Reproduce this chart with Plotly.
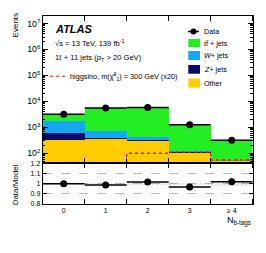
import numpy as np
import plotly.graph_objects as go

# ---------------- data ----------------
categories = ["0", "1", "2", "3", "≥ 4"]
data = [3200, 5580, 5750, 1244, 320]
ttbar = [1400, 4960, 5255, 1168, 260]
wjets = [1200, 305, 90, 8, 3]
zjets = [280, 50, 25, 4, 1]
other = [320, 340, 290, 105, 50]
signal = [5, 20, 100, 110, 55]
ratio = [1.000, 0.987, 1.016, 0.968, 1.019]
ratio_err = [0.004, 0.004, 0.005, 0.008, 0.03]
band_err = [0.01, 0.01, 0.01, 0.01, 0.025]
ratio_ticks = [0.8, 0.9, 1.0, 1.1, 1.2]
ratio_tick_labels = ["0.8", "0.9", "1", "1.1", "1.2"]

# ---------------- styling ----------------
W, H = 266, 253
FONT = "Liberation Sans, Arial, sans-serif"
C_TT = "#22ee22"
C_W = "#14a8f5"
C_Z = "#0a0a66"
C_OTH = "#ffcc00"


def px(x):
    return x / W


def py(y):
    return 1 - y / H


xdom = [px(42.7), px(252.7)]
main_dom = [py(163.8), py(12.5)]
ratio_dom = [py(205.7), py(163.8)]

x = np.arange(len(categories))
edges = np.arange(len(categories) + 1) - 0.5

oth = np.array(other, float)
z = np.array(zjets, float)
w = np.array(wjets, float)
tt = np.array(ttbar, float)
cum_oth = oth
cum_z = cum_oth + z
cum_w = cum_z + w
cum_tt = cum_w + tt

fig = go.Figure()

# stacked backgrounds (overlay of cumulative sums, drawn largest first)
for cum, col, name in [(cum_tt, C_TT, "tt"), (cum_w, C_W, "W"),
                       (cum_z, C_Z, "Z"), (cum_oth, C_OTH, "Other")]:
    fig.add_trace(go.Bar(x=x, y=cum, width=1.0, marker=dict(color=col, line=dict(width=0)),
                         showlegend=False, name=name, xaxis="x", yaxis="y"))

# signal step line
sig_steps = list(signal) + [signal[-1]]
fig.add_trace(go.Scatter(x=edges, y=sig_steps, mode="lines", line_shape="hv",
                         line=dict(color="#ee1111", dash="dot", width=1.3),
                         showlegend=False, xaxis="x", yaxis="y"))

# data
fig.add_trace(go.Scatter(x=x, y=data, mode="markers",
                         marker=dict(color="black", size=7),
                         error_x=dict(type="constant", value=0.5, width=0, thickness=1.5, color="black"),
                         error_y=dict(type="data", array=np.sqrt(np.array(data, float)), width=0,
                                      thickness=1.2, color="black"),
                         showlegend=False, xaxis="x", yaxis="y"))

# ratio uncertainty band (hatched)
be = np.array(band_err)
fig.add_trace(go.Bar(x=x, y=2 * be, base=1 - be, width=1.0,
                     marker=dict(color="rgba(255,255,255,0)", line=dict(width=0),
                                 pattern=dict(shape="/", fgcolor="#888888", bgcolor="rgba(255,255,255,0)",
                                              size=3, solidity=0.3)),
                     showlegend=False, xaxis="x2", yaxis="y2"))

# ratio points
fig.add_trace(go.Scatter(x=x, y=ratio, mode="markers",
                         marker=dict(color="black", size=7),
                         error_x=dict(type="constant", value=0.5, width=0, thickness=1.5, color="black"),
                         error_y=dict(type="data", array=ratio_err, width=0, thickness=1.2, color="black"),
                         showlegend=False, xaxis="x2", yaxis="y2"))

axis_common = dict(showline=True, linecolor="black", linewidth=1, mirror="allticks",
                   tickfont=dict(family=FONT, size=7, color="black"), zeroline=False)

fig.update_layout(
    width=W, height=H,
    margin=dict(l=0, r=0, t=0, b=0),
    paper_bgcolor="white", plot_bgcolor="white",
    barmode="overlay", bargap=0,
    showlegend=False,
    hovermode=False,
    font=dict(family=FONT, color="black"),
    xaxis=dict(domain=xdom, anchor="y", range=[-0.5, 4.5], showticklabels=False,
               ticks="", showgrid=False,
               minor=dict(ticks="inside", tick0=-0.5, dtick=1, ticklen=5, tickcolor="black", showgrid=False),
               **axis_common),
    yaxis=dict(domain=main_dom, anchor="x", type="log", range=[1.614, 7.281], dtick=1,
               exponentformat="power", ticks="inside", ticklen=5, tickcolor="black", showgrid=False,
               minor=dict(ticks="inside", ticklen=2.5, tickcolor="black", dtick="D1", showgrid=False),
               **axis_common),
    xaxis2=dict(domain=xdom, anchor="y2", range=[-0.5, 4.5], tickvals=list(x), ticktext=categories,
                ticks="", showgrid=False, matches="x",
                minor=dict(ticks="inside", tick0=-0.5, dtick=1, ticklen=5, tickcolor="black", showgrid=False),
                **axis_common),
    yaxis2=dict(domain=ratio_dom, anchor="x2", range=[0.8, 1.2], tickvals=ratio_ticks,
                ticktext=ratio_tick_labels, ticks="inside", ticklen=4, tickcolor="black",
                showgrid=True, gridcolor="#aaaaaa", griddash="dash", gridwidth=0.8,
                **axis_common),
)

ann = []


def text(xp, yp, s, size=7, xanchor="left", yanchor="middle", angle=0):
    ann.append(dict(x=px(xp), y=py(yp), xref="paper", yref="paper", text=s, showarrow=False,
                    xanchor=xanchor, yanchor=yanchor, textangle=angle,
                    font=dict(family=FONT, size=size, color="black")))


text(53, 26, "<b><i>ATLAS</i></b>", size=11)
text(53, 40.5, "√s = 13 TeV, 139 fb<sup>-1</sup>", size=7.6)
text(53, 56, "1ℓ + 11 jets (<i>p</i><sub>T</sub> > 20 GeV)", size=7.6)
text(68, 74.3, "higgsino, m(χ̃<sup>0</sup><sub>1</sub>) = 300 GeV (x20)", size=7.3)

text(202, 28.3, "Data", size=7.2)
text(202, 40.2, "<i>t</i><i>t̄</i> + jets", size=7.2)
text(202, 53, "<i>W</i>+ jets", size=7.2)
text(202, 67.2, "<i>Z</i>+ jets", size=7.2)
text(202, 81.3, "Other", size=7.2)

text(15, 22, "Events", size=8, xanchor="center", angle=-90)
text(15.5, 186, "Data/Model", size=8, xanchor="center", angle=-90)
text(252.7, 215, "N<sub>b-tags</sub>", size=9, xanchor="right", yanchor="top")

fig.update_layout(annotations=ann)

shapes = []
for (y0, y1, col) in [(36, 44.3, C_TT), (48.3, 57.7, C_W), (62.7, 71.7, C_Z), (76.7, 86, C_OTH)]:
    shapes.append(dict(type="rect", xref="paper", yref="paper", x0=px(188.3), x1=px(200),
                       y0=py(y1), y1=py(y0), fillcolor=col, line=dict(width=0)))
shapes.append(dict(type="line", xref="paper", yref="paper", x0=px(188), x1=px(199),
                   y0=py(28.3), y1=py(28.3), line=dict(color="black", width=1.5)))
shapes.append(dict(type="circle", xref="paper", yref="paper", x0=px(190.5), x1=px(196.5),
                   y0=py(31.3), y1=py(25.3), fillcolor="black", line=dict(width=0)))
shapes.append(dict(type="line", xref="paper", yref="paper", x0=px(50), x1=px(65),
                   y0=py(74.3), y1=py(74.3), line=dict(color="#ee1111", width=1.2, dash="dot")))
fig.update_layout(shapes=shapes)

fig.write_html("out.html",
               config={"displayModeBar": False, "staticPlot": True},
               post_script="document.body.style.margin='0';document.body.style.padding='0';"
                           "document.body.style.overflow='hidden';")
